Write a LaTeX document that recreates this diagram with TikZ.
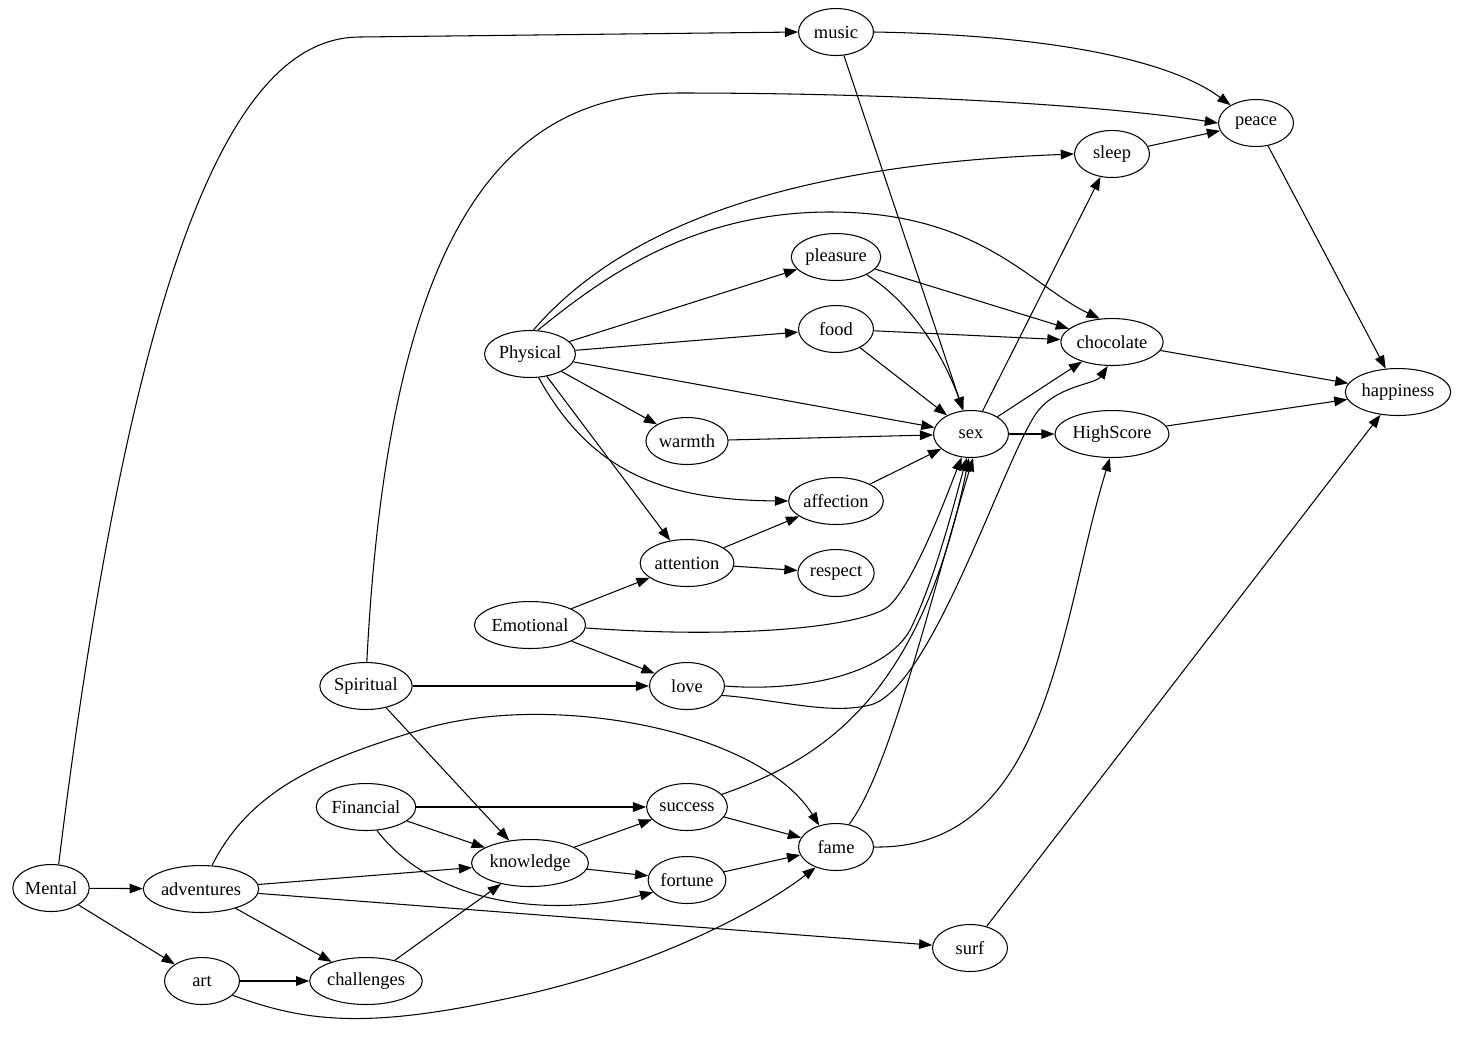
\documentclass[tikz,border=0pt]{standalone}
\usepackage{fontspec}
\setmainfont{Liberation Serif}
\usetikzlibrary{shapes.geometric,arrows.meta}

\begin{document}
\begin{tikzpicture}[x=0.02cm,y=-0.02cm,line width=0.6pt,>={Triangle[length=7.5pt,width=5.5pt]},
  state/.style={ellipse,draw,minimum width=1.5cm,minimum height=0.94cm,inner xsep=0.5pt,inner ysep=0pt,font=\fontsize{10.5}{12}\selectfont}]
\useasboundingbox (0,0) rectangle (1460,1063);
\node[state] (mental) at (51,888) {Mental};
\node[state] (adventures) at (201,889) {adventures};
\node[state] (art) at (202,981) {art};
\node[state] (spiritual) at (366,686) {Spiritual};
\node[state] (financial) at (366,807) {Financial};
\node[state] (challenges) at (366,981) {challenges};
\node[state] (physical) at (530,354) {Physical};
\node[state] (emotional) at (530,625) {Emotional};
\node[state] (knowledge) at (530,863) {knowledge};
\node[state] (warmth) at (687,441) {warmth};
\node[state] (attention) at (687,563) {attention};
\node[state] (love) at (687,686) {love};
\node[state] (success) at (687,807) {success};
\node[state] (fortune) at (687,880) {fortune};
\node[state] (music) at (836,32) {music};
\node[state] (pleasure) at (836,257) {pleasure};
\node[state] (food) at (836,329) {food};
\node[state] (affection) at (836,501) {affection};
\node[state] (respect) at (836,573) {respect};
\node[state] (fame) at (836,847) {fame};
\node[state] (sex) at (971,434) {sex};
\node[state] (surf) at (970,948) {surf};
\node[state] (sleep) at (1112,154) {sleep};
\node[state] (chocolate) at (1112,342) {chocolate};
\node[state] (highscore) at (1112,434) {HighScore};
\node[state] (peace) at (1256,123) {peace};
\node[state] (happiness) at (1398,392) {happiness};

\draw[->] (mental) -- (adventures);
\draw[->] (mental) -- (art);
\draw[->] (music) -- (sex);
\draw[->] (sleep) -- (peace);
\draw[->] (peace) -- (happiness);
\draw[->] (physical) -- (pleasure);
\draw[->] (physical) -- (food);
\draw[->] (physical) -- (sex);
\draw[->] (physical) -- (warmth);
\draw[->] (physical) -- (attention);
\draw[->] (pleasure) -- (chocolate);
\draw[->] (food) -- (chocolate);
\draw[->] (food) -- (sex);
\draw[->] (chocolate) -- (happiness);
\draw[->] (highscore) -- (happiness);
\draw[->] (sex) -- (sleep);
\draw[->] (sex) -- (chocolate);
\draw[->] (sex) -- (highscore);
\draw[->] (warmth) -- (sex);
\draw[->] (affection) -- (sex);
\draw[->] (attention) -- (affection);
\draw[->] (attention) -- (respect);
\draw[->] (emotional) -- (attention);
\draw[->] (emotional) -- (love);
\draw[->] (spiritual) -- (love);
\draw[->] (spiritual) -- (knowledge);
\draw[->] (adventures) -- (knowledge);
\draw[->] (adventures) -- (surf);
\draw[->] (adventures) -- (challenges);
\draw[->] (art) -- (challenges);
\draw[->] (challenges) -- (knowledge);
\draw[->] (financial) -- (success);
\draw[->] (financial) -- (knowledge);
\draw[->] (knowledge) -- (success);
\draw[->] (knowledge) -- (fortune);
\draw[->] (success) -- (fame);
\draw[->] (fortune) -- (fame);
\draw[->] (surf) -- (happiness);
% curved edges
\draw[->] (mental.72) .. controls (140,200) and (250,37) .. (360,37) -- (music.west);
\draw[->] (music.east) .. controls (1050,35) and (1170,60) .. (peace.145);
\draw[->] (spiritual.88) .. controls (390,200) and (520,93) .. (680,93) .. controls (900,93) and (1100,105) .. (peace.west);
\draw[->] (physical.82) .. controls (620,230) and (780,165) .. (sleep.west);
\draw[->] (physical.72) .. controls (600,280) and (690,212) .. (830,212) .. controls (980,212) and (1030,285) .. (chocolate.118);
\draw[->] (physical.-70) .. controls (590,470) and (660,500) .. (affection.west);
\draw[->] (pleasure.-30) .. controls (915,305) and (945,360) .. (sex.108);
\draw[->] (emotional.-3) .. controls (750,640) and (870,625) .. (890,605) .. controls (915,580) and (945,500) .. (sex.-112);
\draw[->] (love.east) .. controls (800,692) and (885,675) .. (910,630) .. controls (935,580) and (955,500) .. (sex.-100);
\draw[->] (love.-15) .. controls (780,700) and (830,715) .. (870,705) .. controls (930,690) and (1000,470) .. (1035,415) .. controls (1055,385) and (1095,385) .. (chocolate.-100);
\draw[->] (success.20) .. controls (820,760) and (920,700) .. (sex.-95);
\draw[->] (fame.60) .. controls (890,770) and (930,600) .. (sex.-85);
\draw[->] (fame.east) .. controls (1050,850) and (1060,620) .. (highscore.-95);
\draw[->] (adventures.65) .. controls (250,790) and (320,760) .. (420,730) .. controls (550,690) and (760,730) .. (fame.128);
\draw[->] (art.-25) .. controls (300,1020) and (360,1030) .. (500,1000) .. controls (650,970) and (760,910) .. (fame.-135);
\draw[->] (financial.-65) .. controls (430,900) and (540,920) .. (fortune.-160);
\end{tikzpicture}
\end{document}
